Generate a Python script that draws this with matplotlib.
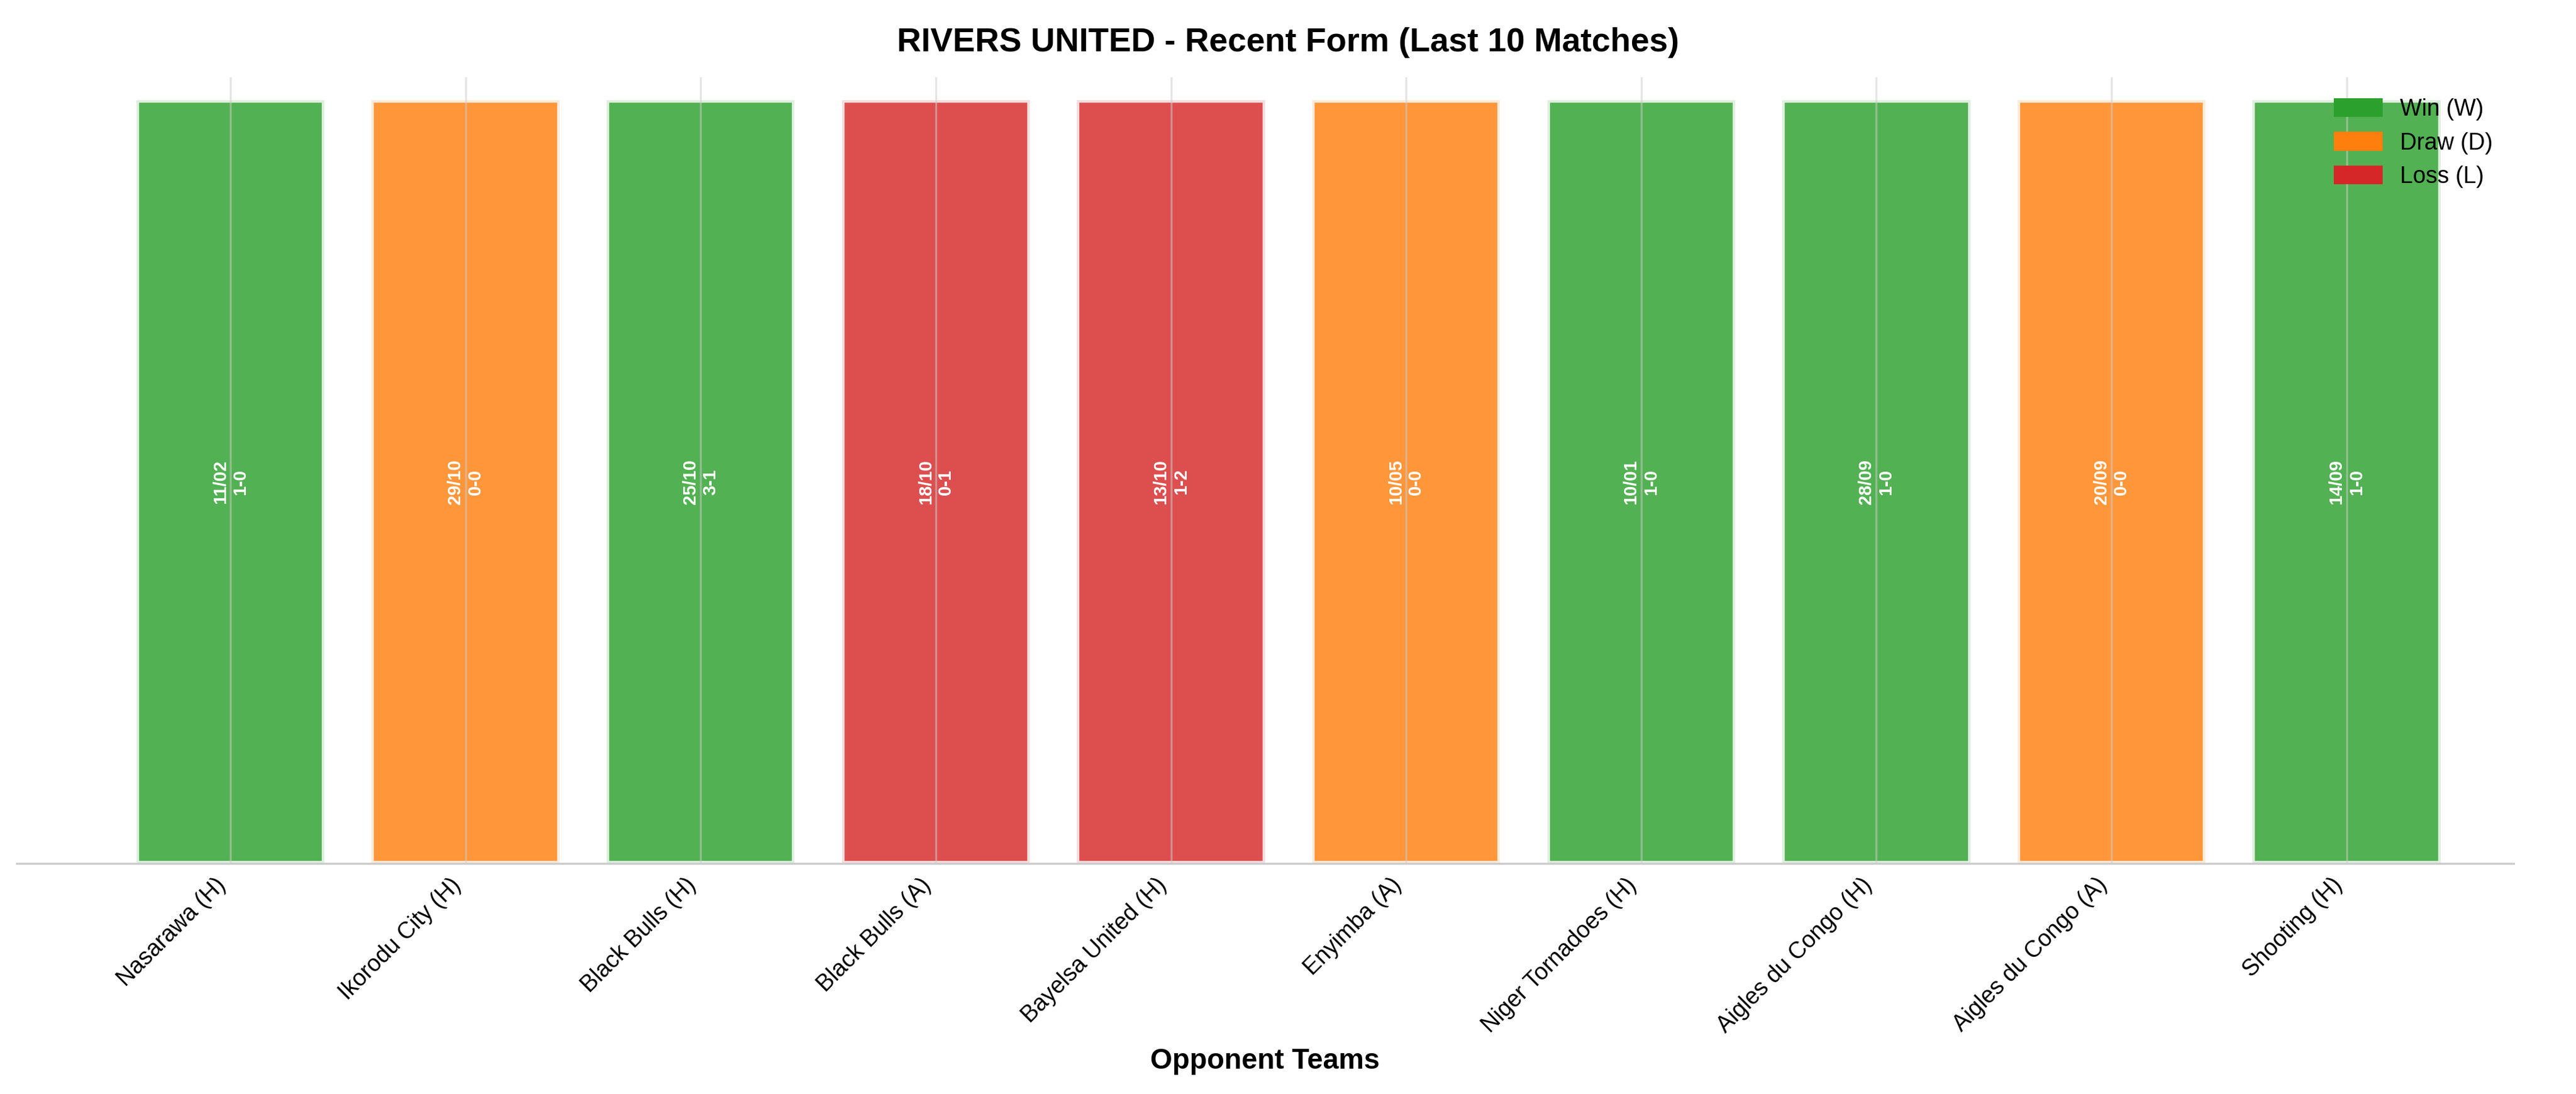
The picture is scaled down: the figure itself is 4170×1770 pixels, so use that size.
import matplotlib
matplotlib.use("Agg")
import matplotlib.pyplot as plt
from matplotlib.patches import Patch

plt.rcParams['font.family'] = ['Liberation Sans', 'DejaVu Sans']

opponents = ["Nasarawa (H)", "Ikorodu City (H)", "Black Bulls (H)", "Black Bulls (A)",
             "Bayelsa United (H)", "Enyimba (A)", "Niger Tornadoes (H)",
             "Aigles du Congo (H)", "Aigles du Congo (A)", "Shooting (H)"]
results = ["W", "D", "W", "L", "L", "D", "W", "W", "D", "W"]
dates = ["11/02", "29/10", "25/10", "18/10", "13/10", "10/05", "10/01", "28/09", "20/09", "14/09"]
scores = ["1-0", "0-0", "3-1", "0-1", "1-2", "0-0", "1-0", "1-0", "0-0", "1-0"]
heights = [1] * 10

colors = {"W": "#2ca02c", "D": "#ff7f0e", "L": "#d62728"}

fig = plt.figure(figsize=(13.9, 5.9), dpi=300)
ax = fig.add_axes([10/1568, 1 - 1397/1770*1, 1520/1568, (1397 - 125)/1770])
x = list(range(len(opponents)))
ax.grid(axis='x', color='#cccccc', linewidth=0.8, alpha=0.5, zorder=0)
ax.set_axisbelow(False)
ax.bar(x, heights, width=0.8, color=[colors[r] for r in results], alpha=0.82,
       edgecolor='white', linewidth=2, zorder=2)
for xi, d, s in zip(x, dates, scores):
    ax.text(xi, 0.5, f"{d}\n{s}", rotation=90, ha='center', va='center',
            color='white', fontsize=7, fontweight='bold', zorder=3)
ax.set_xlim(-0.91, 9.71)
ax.set_ylim(0, 1.03)
ax.set_yticks([])
ax.set_xticks(x)
ax.set_xticklabels(opponents, rotation=45, ha='right', fontsize=9)
ax.tick_params(axis='x', length=0, pad=4)
for sp in ['top', 'right', 'left']:
    ax.spines[sp].set_visible(False)
ax.spines['bottom'].set_color('#cccccc')
ax.set_xlabel("Opponent Teams", fontsize=11, fontweight='bold')
fig.suptitle("RIVERS UNITED - Recent Form (Last 10 Matches)", fontsize=13,
             fontweight='bold', y=0.975)
handles = [Patch(color=colors[k], label=l) for k, l in
           [("W", "Win (W)"), ("D", "Draw (D)"), ("L", "Loss (L)")]]
ax.legend(handles=handles, loc='upper right', frameon=False, fontsize=9)
fig.savefig("out.png", dpi=300)
